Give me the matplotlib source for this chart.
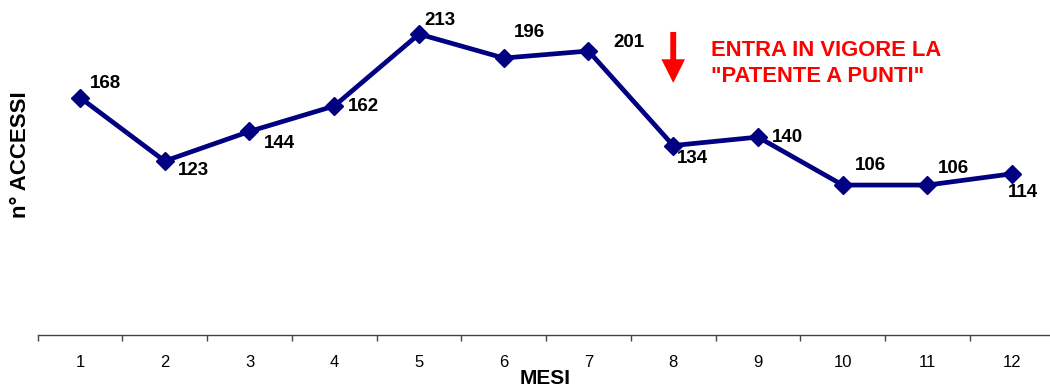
import matplotlib.pyplot as plt
from matplotlib.ticker import FixedLocator

plt.rcParams['font.family'] = ['Liberation Sans', 'DejaVu Sans']

# data
mesi = [1, 2, 3, 4, 5, 6, 7, 8, 9, 10, 11, 12]
accessi = [168, 123, 144, 162, 213, 196, 201, 134, 140, 106, 106, 114]

# label offsets in pixels (dx, dy) relative to each point
label_offsets = [(26, 14), (29, -9), (30, -12), (29, 0), (21, 14), (26, 26),
                 (40, 9), (19, -13), (29, 0), (28, 20), (26, 17), (11, -19)]

fig = plt.figure(figsize=(10.5, 3.89), dpi=100)
ax = fig.add_axes([0.0358, 0.1398, 0.9686, 0.8524])

ax.plot(mesi, accessi, color='#000080', linewidth=3.4, marker='D',
        markersize=9.5, markerfacecolor='#000080', markeredgecolor='#000080')

for x, y, (dx, dy) in zip(mesi, accessi, label_offsets):
    ax.annotate(str(y), xy=(x, y), xytext=(dx, dy), textcoords='offset pixels',
                ha='center', va='center', fontsize=13.5, fontweight='bold')

# note about the "patente a punti"
ax.annotate('', xy=(8, 178.4), xytext=(8, 214.5),
            arrowprops=dict(arrowstyle='simple,head_length=1.0,head_width=1.0,tail_width=0.25',
                            color='red', lw=0, mutation_scale=17, shrinkA=0, shrinkB=0))
ax.text(8.44, 192, 'ENTRA IN VIGORE LA\n"PATENTE A PUNTI"', color='red',
        fontsize=15.8, fontweight='bold', ha='left', va='center', linespacing=1.3)

ax.set_xlim(0.5, 12.5)
ax.set_ylim(0, 235)

ax.set_xticks(mesi)
ax.set_xticklabels([str(m) for m in mesi], fontsize=12)
ax.xaxis.set_minor_locator(FixedLocator([m + 0.5 for m in [0] + mesi]))
ax.tick_params(axis='x', which='major', length=0, pad=15)
ax.tick_params(axis='x', which='minor', length=4, color='#444444', width=1)
ax.set_yticks([])

for s in ['top', 'right', 'left']:
    ax.spines[s].set_visible(False)
ax.spines['bottom'].set_color('#444444')
ax.spines['bottom'].set_linewidth(1)

ax.set_xlabel('MESI', fontsize=15, fontweight='bold')
ax.xaxis.set_label_coords((545 - 37.6) / 1017, -(369 - 334.6) / 331.6)
ax.set_ylabel('n° ACCESSI', fontsize=16, fontweight='bold')
ax.yaxis.set_label_coords((31 - 37.6) / 1017, (334.6 - 155) / 331.6)

fig.savefig('out.png', dpi=100)
